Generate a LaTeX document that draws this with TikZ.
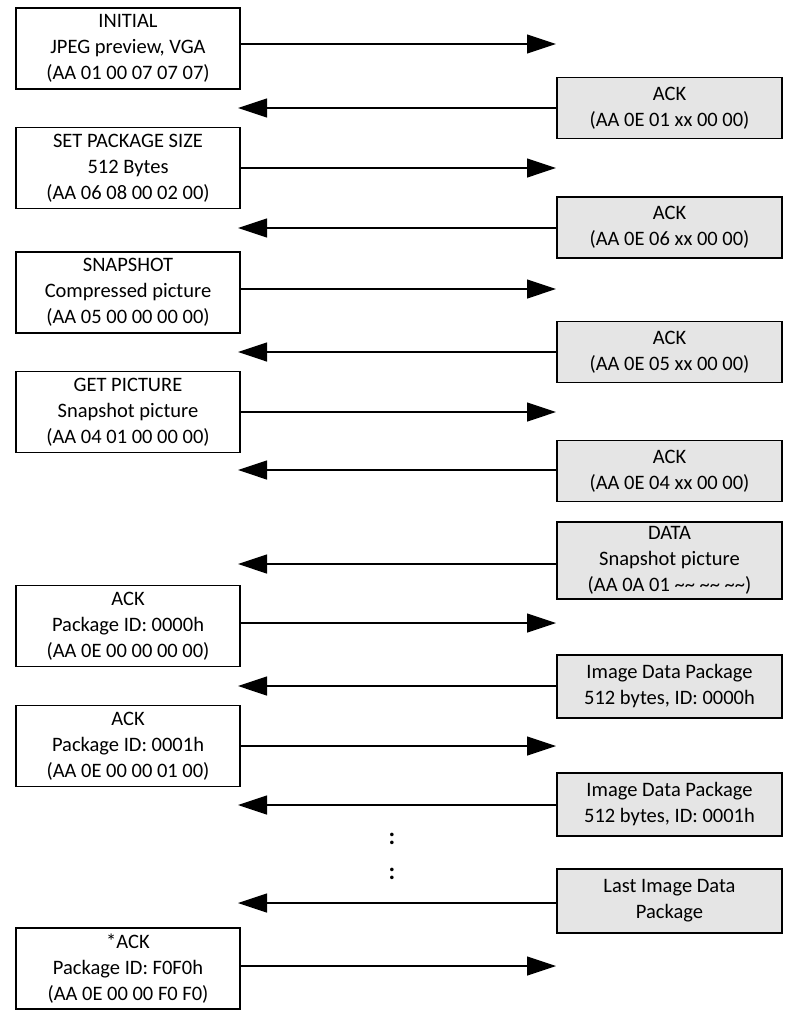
\documentclass[tikz,border=0pt]{standalone}
\usepackage{fontspec}
\setmainfont{Carlito}
\usetikzlibrary{arrows.meta,positioning}

\begin{document}
\begin{tikzpicture}[x=1pt,y=-1pt,every path/.style={line width=1.2pt,>={Triangle[length=29pt,width=19pt]}},
						host/.style={rectangle,draw,fill=white,minimum width=224pt,align=center,minimum height=81pt,font=\fontsize{20.5}{26}\selectfont},
						cam/.style={rectangle,draw,fill=gray!20,minimum width=225pt,align=center,minimum height=61pt,font=\fontsize{20.5}{26}\selectfont}]
		\useasboundingbox (0,0) rectangle (796,1023);
		\node[host] (initial) at (128,48.5) {INITIAL\\JPEG preview, VGA\\(AA 01 00 07 07 07)};
		\node[cam] (ackinit) at (669.5,108) {ACK\\(AA 0E 01 xx 00 00)};
		\node[host] (pkgsize) at (128,168) {SET PACKAGE SIZE\\512 Bytes\\(AA 06 08 00 02 00)};
		\node[cam] (ackpkg) at (669.5,227.5) {ACK\\(AA 0E 06 xx 00 00)};
		\node[host] (snapshot) at (128,292.5) {SNAPSHOT\\Compressed picture\\(AA 05 00 00 00 00)};
		\node[cam] (acksnap) at (669.5,352) {ACK\\(AA 0E 05 xx 00 00)};
		\node[host] (getpic) at (128,412) {GET PICTURE\\Snapshot picture\\(AA 04 01 00 00 00)};
		\node[cam] (ackget) at (669.5,471) {ACK\\(AA 0E 04 xx 00 00)};
		\node[cam,minimum height=77pt] (data) at (669.5,560.5) {DATA\\Snapshot picture\\(AA 0A 01 \textasciitilde\textasciitilde\ \textasciitilde\textasciitilde\ \textasciitilde\textasciitilde)};
		\node[host] (ackzero) at (128,626) {ACK\\Package ID: 0000h\\(AA 0E 00 00 00 00)};
		\node[cam,minimum height=63pt] (pkgzero) at (669.5,686.5) {Image Data Package\\512 bytes, ID: 0000h};
		\node[host] (ackone) at (128,746) {ACK\\Package ID: 0001h\\(AA 0E 00 00 01 00)};
		\node[cam,minimum height=63pt] (pkgone) at (669.5,804.5) {Image Data Package\\512 bytes, ID: 0001h};
		\node[font=\fontsize{24}{26}\bfseries] (dotsa) at (392,839) {:};
		\node[font=\fontsize{24}{26}\bfseries] (dotsb) at (392,874) {:};
		\node[cam,minimum height=64pt] (lastpkg) at (669.5,901) {Last Image Data\\Package};
		\node[host] (acklast) at (128,968.5) {*ACK\\Package ID: F0F0h\\(AA 0E 00 00 F0 F0)};

		\coordinate (t1) at (556,44);
		\coordinate (t2) at (238,108);
		\coordinate (t3) at (556,168);
		\coordinate (t4) at (238,228);
		\coordinate (t5) at (556,289);
		\coordinate (t6) at (238,352);
		\coordinate (t7) at (556,412);
		\coordinate (t8) at (238,470);
		\coordinate (t9) at (238,564);
		\coordinate (t10) at (556,623);
		\coordinate (t11) at (238,686);
		\coordinate (t12) at (556,746);
		\coordinate (t13) at (238,805);
		\coordinate (t14) at (238,903);
		\coordinate (t15) at (556,966);

		\draw[->] (initial.east |- t1) -- (t1);
		\draw[->] (ackinit.west |- t2) -- (t2);
		\draw[->] (pkgsize.east |- t3) -- (t3);
		\draw[->] (ackpkg.west |- t4) -- (t4);
		\draw[->] (snapshot.east |- t5) -- (t5);
		\draw[->] (acksnap.west |- t6) -- (t6);
		\draw[->] (getpic.east |- t7) -- (t7);
		\draw[->] (ackget.west |- t8) -- (t8);
		\draw[->] (data.west |- t9) -- (t9);
		\draw[->] (ackzero.east |- t10) -- (t10);
		\draw[->] (pkgzero.west |- t11) -- (t11);
		\draw[->] (ackone.east |- t12) -- (t12);
		\draw[->] (pkgone.west |- t13) -- (t13);
		\draw[->] (lastpkg.west |- t14) -- (t14);
		\draw[->] (acklast.east |- t15) -- (t15);
	\end{tikzpicture}
\end{document}
